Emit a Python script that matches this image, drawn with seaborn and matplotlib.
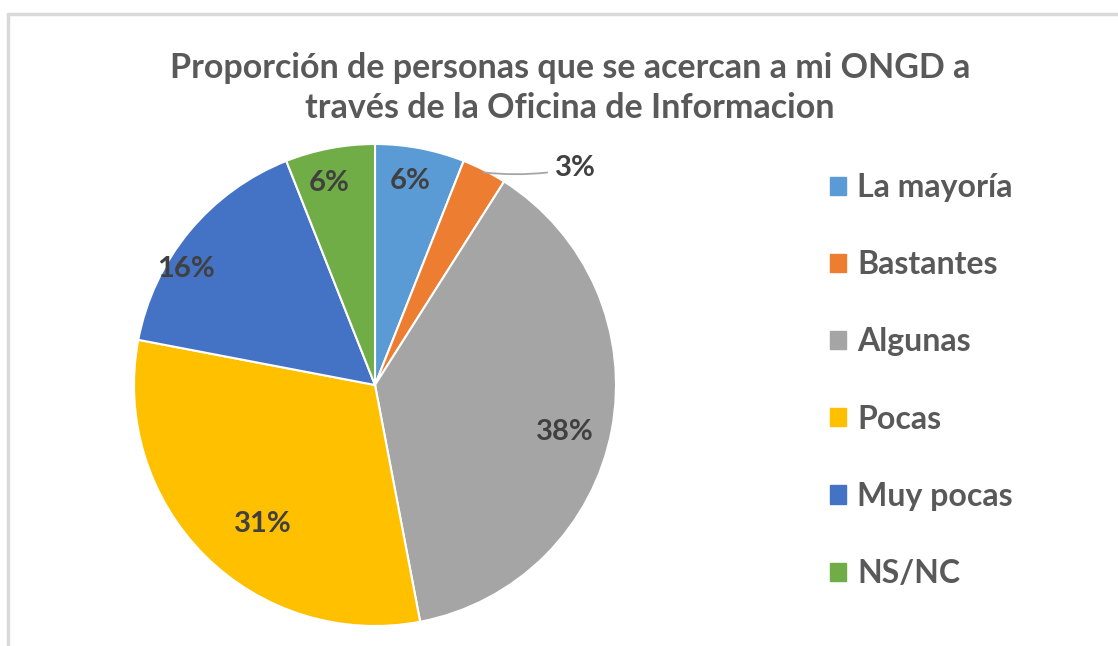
import numpy as np
import matplotlib.pyplot as plt
import seaborn as sns
from matplotlib.lines import Line2D

# Chart data
categories = ["La mayoría", "Bastantes", "Algunas", "Pocas", "Muy pocas", "NS/NC"]
values = [6, 3, 38, 31, 16, 6]
colors = ["#5B9BD5", "#ED7D31", "#A5A5A5", "#FFC000", "#4472C4", "#70AD47"]
title = "Proporción de personas que se acercan a mi ONGD a\ntravés de la Oficina de Informacion"

sns.set_theme(style="white")
plt.rcParams["font.family"] = ["Lato", "DejaVu Sans"]

fig = plt.figure(figsize=(11.18, 6.46), dpi=100)
fig.patch.set_facecolor("white")

# light frame on top and left like the Excel chart area
fig.add_artist(Line2D([8 / 1118, 1], [1 - 14 / 646, 1 - 14 / 646], color="#D9D9D9", lw=2.5))
fig.add_artist(Line2D([8 / 1118, 8 / 1118], [0, 1 - 14 / 646], color="#D9D9D9", lw=2.5))

cx, cy, r = 375, 385, 241
ax = fig.add_axes([(cx - r) / 1118, (646 - cy - r) / 646, 2 * r / 1118, 2 * r / 646])
wedges, _ = ax.pie(values, colors=colors, startangle=90, counterclock=False,
                   wedgeprops=dict(edgecolor="white", linewidth=1.5))
ax.set_aspect("auto")
ax.set_xlim(-1, 1)
ax.set_ylim(-1, 1)

# label placement (radius fraction, angle shift in degrees) roughly like Excel best fit
label_pos = [(0.86, 1), None, (0.81, -3), (0.74, 6), (0.92, 8), (0.86, 2)]
for w, v, pos in zip(wedges, values, label_pos):
    mid = (w.theta1 + w.theta2) / 2
    if pos is None:
        a = np.deg2rad(mid)
        ax.annotate(f"{v}%", xy=(0.99 * np.cos(a), 0.99 * np.sin(a)),
                    xytext=(0.83, 0.90), ha="center", va="center",
                    fontsize=21, fontweight="bold", color="#404040",
                    arrowprops=dict(arrowstyle="-", color="#A6A6A6", lw=1.3,
                                    connectionstyle="arc3,rad=-0.08", shrinkA=3, shrinkB=0))
        continue
    frac, shift = pos
    a = np.deg2rad(mid + shift)
    ax.text(frac * np.cos(a), frac * np.sin(a), f"{v}%", ha="center", va="center",
            fontsize=21, fontweight="bold", color="#404040")

fig.text(570 / 1118, 1 - 88 / 646, title, ha="center", va="center", fontsize=24.5,
         fontweight="bold", color="#595959", linespacing=1.3)

handles = [plt.Rectangle((0, 0), 1, 1, color=c) for c in colors]
fig.legend(handles, categories, loc="upper left", bbox_to_anchor=(814 / 1118, 1 - 157 / 646),
           frameon=False, labelcolor="#595959", handlelength=0.5,
           handleheight=0.5, handletextpad=0.35, labelspacing=1.51, borderpad=0,
           prop=dict(family="Lato", weight="bold", size=23))

fig.savefig("out.png", dpi=100, facecolor="white")
